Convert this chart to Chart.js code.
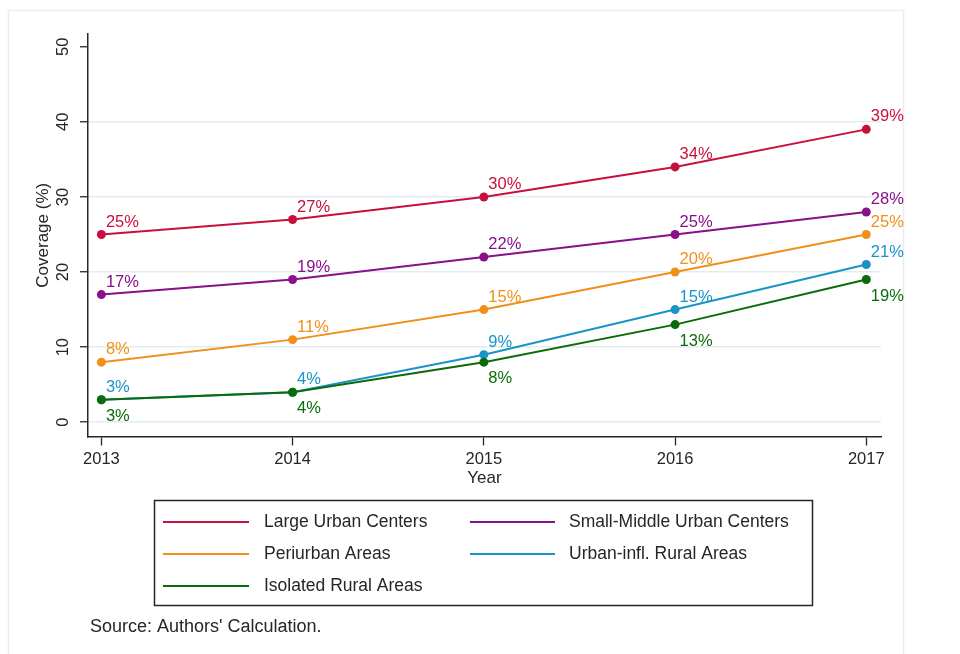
<!DOCTYPE html>
<html>
<head>
<meta charset="utf-8">
<script src="https://cdn.jsdelivr.net/npm/chart.js@4.4.1/dist/chart.umd.min.js"></script>
<style>
  html, body { margin: 0; padding: 0; background: #fff; }
  #wrap { width: 960px; height: 654px; }
</style>
</head>
<body>
<div id="wrap"><canvas id="chart" width="960" height="654"></canvas></div>
<script>
// coverage by area type, percent
const years = [2013, 2014, 2015, 2016, 2017];
const largeUrban = [25, 27, 30, 34, 39];
const smallMiddleUrban = [17, 19, 22, 25, 28];
const periurban = [8, 11, 15, 20, 25];
const urbanInflRural = [3, 4, 9, 15, 21];
const isolatedRural = [3, 4, 8, 13, 19];
const seriesNames = [
  "Large Urban Centers",
  "Small-Middle Urban Centers",
  "Periurban Areas",
  "Urban-infl. Rural Areas",
  "Isolated Rural Areas",
];
const yTicks = [0, 10, 20, 30, 40, 50];

const FONT = '"Liberation Sans", Arial, sans-serif';
const INK = "#262626";
const colors = ["#c8103e", "#8a0f8a", "#f0901a", "#1a93c9", "#0b6b0b"];
const allSeries = [largeUrban, smallMiddleUrban, periurban, urbanInflRural, isolatedRural];

const datasets = allSeries.map((vals, i) => ({
  label: seriesNames[i],
  data: years.map((yr, j) => ({ x: yr, y: vals[j] })),
  borderColor: colors[i],
  backgroundColor: colors[i],
  pointBackgroundColor: colors[i],
  pointBorderColor: colors[i],
  pointRadius: 4.5,
  pointBorderWidth: 0,
  borderWidth: 2,
  tension: 0,
  order: allSeries.length - i, // later series on top, like Stata
  labelBelow: i === 4,
}));

const extras = {
  id: "extras",
  beforeDraw(chart) {
    const ctx = chart.ctx;
    ctx.save();
    ctx.strokeStyle = "#e6eef0";
    ctx.lineWidth = 1.5;
    ctx.strokeRect(8.5, 10.5, 895, 660);
    ctx.restore();
  },
  afterDatasetsDraw(chart) {
    const ctx = chart.ctx;
    ctx.save();
    ctx.font = "16.5px " + FONT;
    ctx.textAlign = "left";
    ctx.textBaseline = "middle";
    chart.data.datasets.forEach((ds, i) => {
      const meta = chart.getDatasetMeta(i);
      ctx.fillStyle = ds.borderColor;
      meta.data.forEach((pt, j) => {
        const dy = ds.labelBelow ? 16.5 : -12.5;
        ctx.fillText(ds.data[j].y + "%", pt.x + 4.5, pt.y + dy);
      });
    });
    ctx.restore();
  },
  afterDraw(chart) {
    const ctx = chart.ctx;
    const ys = chart.scales.y;
    const area = chart.chartArea;
    ctx.save();
    ctx.fillStyle = INK;
    ctx.font = "16.5px " + FONT;
    ctx.textAlign = "center";
    ctx.textBaseline = "middle";
    // rotated y tick labels
    yTicks.forEach((v) => {
      ctx.save();
      ctx.translate(63, ys.getPixelForValue(v));
      ctx.rotate(-Math.PI / 2);
      ctx.fillText(String(v), 0, 0);
      ctx.restore();
    });
    // axis titles
    ctx.font = "17px " + FONT;
    ctx.save();
    ctx.translate(43, (area.top + area.bottom) / 2);
    ctx.rotate(-Math.PI / 2);
    ctx.fillText("Coverage (%)", 0, 0);
    ctx.restore();
    ctx.fillText("Year", (area.left + area.right) / 2, 478);

    // legend box
    ctx.font = "17.5px " + FONT;
    ctx.strokeStyle = INK;
    ctx.lineWidth = 1.5;
    ctx.strokeRect(154.5, 500.5, 658, 105);
    const cols = [[163, 249, 264], [470, 555, 569]];
    const rows = [522, 554, 586];
    ctx.textAlign = "left";
    chart.data.datasets.forEach((ds, i) => {
      const c = cols[i % 2];
      const y = rows[Math.floor(i / 2)];
      ctx.strokeStyle = ds.borderColor;
      ctx.lineWidth = 2;
      ctx.beginPath();
      ctx.moveTo(c[0], y);
      ctx.lineTo(c[1], y);
      ctx.stroke();
      ctx.fillStyle = INK;
      ctx.fillText(ds.label, c[2], y);
    });

    ctx.font = "18px " + FONT;
    ctx.fillStyle = INK;
    ctx.fillText("Source: Authors' Calculation.", 90, 627);
    ctx.restore();
  },
};

new Chart(document.getElementById("chart"), {
  type: "line",
  data: { datasets },
  options: {
    responsive: false,
    animation: false,
    layout: { padding: { top: 34, right: 79, left: 0, bottom: 0 } },
    plugins: { legend: { display: false }, tooltip: { enabled: false } },
    scales: {
      x: {
        type: "linear",
        min: 2012.93,
        max: 2017.077,
        ticks: {
          stepSize: 1,
          includeBounds: false,
          maxRotation: 0,
          padding: 4,
          color: INK,
          font: { family: FONT, size: 16.5 },
          callback: (v) => String(v),
        },
        grid: { drawOnChartArea: false, tickLength: 9, tickColor: INK, tickWidth: 1.3 },
        border: { color: INK, width: 1.5 },
        afterFit: (s) => { s.height = 217.5; },
      },
      y: {
        min: -1.9,
        max: 51.7,
        ticks: { stepSize: 10, includeBounds: false, display: false },
        grid: {
          color: (c) => (c.tick && c.tick.value === 50 ? "rgba(0,0,0,0)" : "#e3ecef"),
          lineWidth: 1.5,
          tickLength: 8,
          tickColor: INK,
          tickWidth: 1.3,
        },
        border: { color: INK, width: 1.5 },
        afterFit: (s) => { s.width = 88; },
      },
    },
  },
  plugins: [extras],
});
</script>
</body>
</html>
